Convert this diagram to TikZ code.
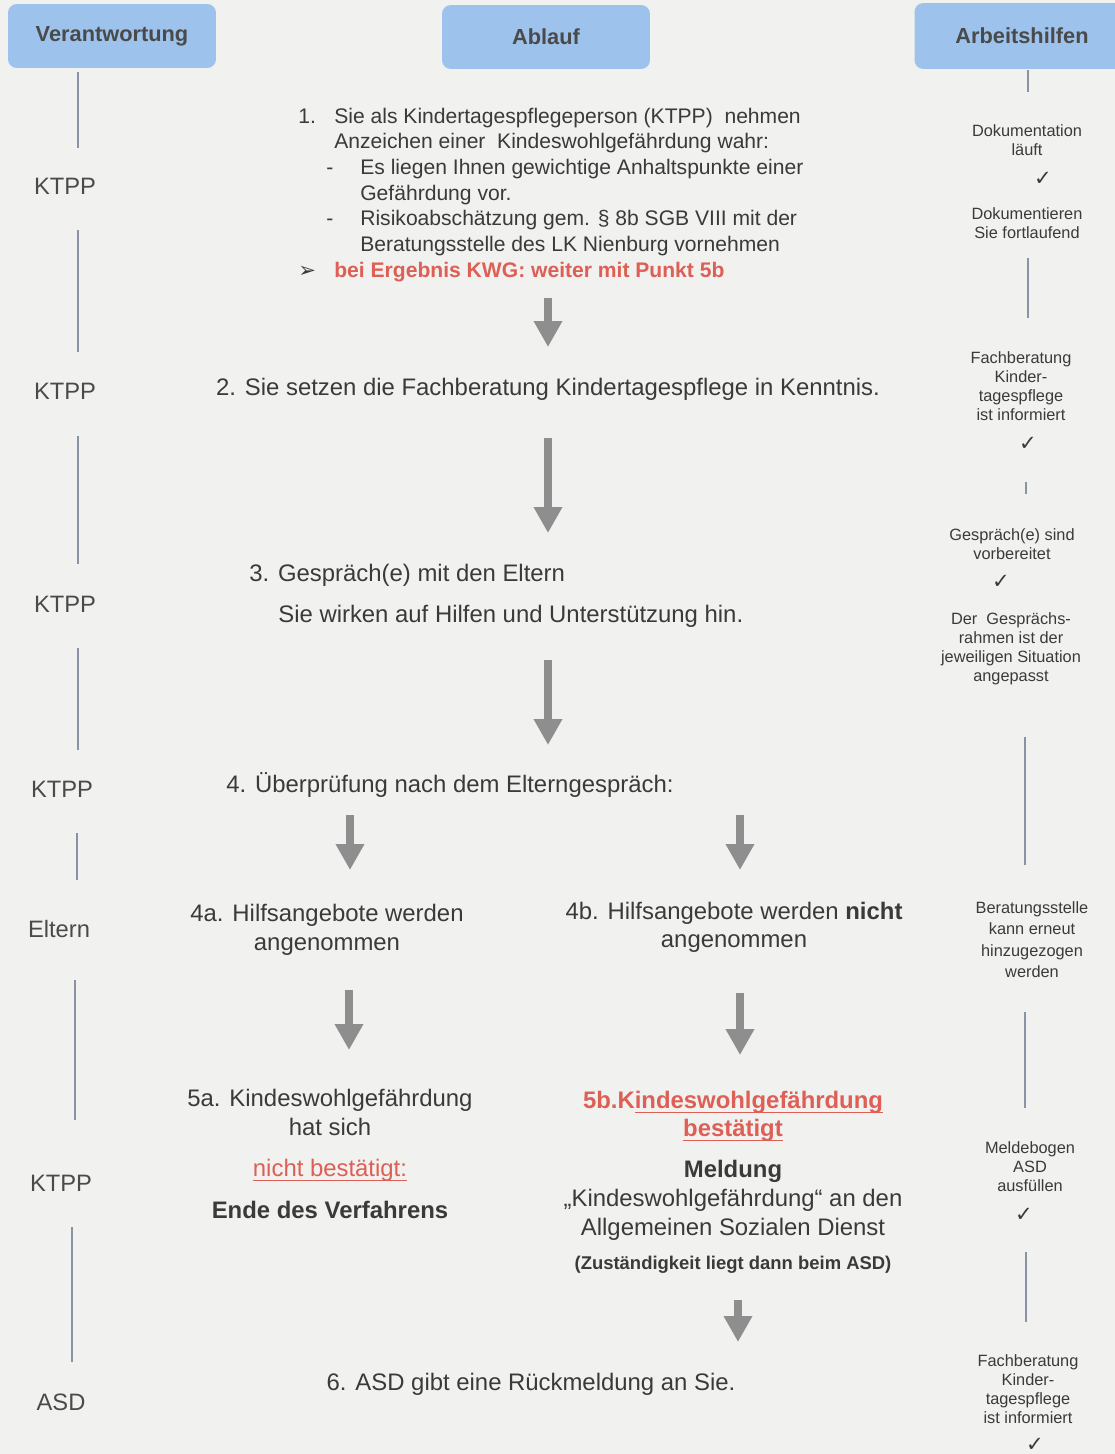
\documentclass[tikz,border=0pt]{standalone}
\usepackage{fontspec}
\setmainfont{Liberation Sans}
\newfontfamily\symfont{DejaVu Sans}
\usepackage{xcolor}
\usetikzlibrary{arrows.meta}
\definecolor{paper}{HTML}{F1F1EF}
\definecolor{headblue}{HTML}{9DC3EC}
\definecolor{headtext}{HTML}{4A4A4A}
\definecolor{inkgray}{HTML}{3A3A3A}
\definecolor{kwgred}{HTML}{DD5F55}
\definecolor{arrowgray}{HTML}{8E8E8E}
\definecolor{linegray}{HTML}{8A93A6}
\newcommand{\uln}[1]{\setbox0\hbox{#1}\rlap{\rule[-2.8pt]{\wd0}{0.8pt}}\box0}
\tikzset{
  headbox/.style={
    fill=headblue,
    rounded corners=5pt,
    minimum width=4.16cm,
    minimum height=1.28cm,
    text=headtext,
    font=\fontsize{12.4}{14}\selectfont\bfseries
  },
  rolelabel/.style={
    text=headtext,
    inner sep=0pt,
    font=\fontsize{13.5}{16}\selectfont
  },
  vline/.style={
    draw=linegray,
    line width=1.1pt
  },
  steptext/.style={
    text=inkgray,
    inner sep=0pt,
    font=\fontsize{13.6}{16.5}\selectfont
  },
  firststep/.style={
    text=inkgray,
    inner sep=0pt,
    align=left,
    font=\fontsize{12}{14.6}\selectfont
  },
  helptext/.style={
    text=inkgray,
    inner sep=0pt,
    align=center,
    font=\fontsize{9.3}{10.8}\selectfont
  },
  tickmark/.style={
    text=inkgray,
    inner sep=0pt,
    font=\symfont\fontsize{12}{14}\selectfont
  },
  flowarrow/.style={
    -{Triangle[length=14.8pt,width=15.4pt]},
    line width=4.4pt,
    draw=arrowgray
  }
}

\begin{document}
\begin{tikzpicture}[x=0.02cm, y=-0.02cm]
    \useasboundingbox (0,0) rectangle (1115,1454);
    \clip (0,0) rectangle (1115,1454);
    \fill[paper] (0,0) rectangle (1115,1454);

    % column heads
    \node[headbox] (hver) at (112,36) {Verantwortung};
    \node[headbox] (habl) at (546,37) {Ablauf};
    \node[headbox, minimum width=4.3cm, minimum height=1.32cm] (harb) at (1022,36) {Arbeitshilfen};

    % Verantwortung
    \node[rolelabel] (k1) at (65,186) {KTPP};
    \node[rolelabel] (k2) at (65,391) {KTPP};
    \node[rolelabel] (k3) at (65,604) {KTPP};
    \node[rolelabel] (k4) at (62,789) {KTPP};
    \node[rolelabel] (el) at (59,929) {Eltern};
    \node[rolelabel] (k5) at (61,1183) {KTPP};
    \node[rolelabel] (asd) at (61,1402) {ASD};

    \foreach \x/\ya/\yb in {78/72/148, 78/230/352, 78/436/564, 78/648/750,
                            77/833/880, 75/980/1120, 72/1227/1362}
        \draw[vline] (\x,\ya) -- (\x,\yb);

    % Ablauf
    \node[firststep, anchor=north west] (s1) at (298,107.5) {%
        \makebox[0.72cm][l]{1.}Sie als Kindertagespflegeperson (KTPP)\ \ nehmen\\
        \hspace*{0.72cm}Anzeichen einer\ \ Kindeswohlgefährdung wahr:\\
        \hspace*{0.56cm}\makebox[0.68cm][l]{-}Es liegen Ihnen gewichtige Anhaltspunkte einer\\
        \hspace*{1.24cm}Gefährdung vor.\\
        \hspace*{0.56cm}\makebox[0.68cm][l]{-}Risikoabschätzung gem. § 8b SGB VIII mit der\\
        \hspace*{1.24cm}Beratungsstelle des LK Nienburg vornehmen\\
        \makebox[0.72cm][l]{{\symfont\fontsize{12}{12}\selectfont ➢}}{\color{kwgred}\bfseries bei Ergebnis KWG: weiter mit Punkt 5b}
    };
    \node[steptext, anchor=base] (s2) at (548,395.5) {2. Sie setzen die Fachberatung Kindertagespflege in Kenntnis.};
    \node[steptext, anchor=base west] (s3) at (249,581.5) {3. Gespräch(e) mit den Eltern};
    \node[steptext, anchor=base west] (s3b) at (278,622.5) {Sie wirken auf Hilfen und Unterstützung hin.};
    \node[steptext, anchor=base west] (s4) at (226,792.5) {4. Überprüfung nach dem Elterngespräch:};
    \node[steptext, align=center, anchor=north] (s4a) at (327,903.5) {4a. Hilfsangebote werden\\angenommen};
    \node[steptext, align=center, anchor=north, font=\fontsize{13.6}{16}\selectfont] (s4b) at (734,901.5) {4b. Hilfsangebote werden \textbf{nicht}\\angenommen};
    \node[steptext, align=center, anchor=north] (s5a) at (330,1088.5) {%
        5a. Kindeswohlgefährdung\\hat sich\\[6.8pt]
        {\color{kwgred}\uln{nicht bestätigt:}}\\[7.4pt]
        \textbf{Ende des Verfahrens}
    };
    \node[steptext, align=center, anchor=north, text=kwgred, font=\fontsize{13.6}{16}\selectfont\bfseries] (s5b) at (733,1090.5) {5b.K\uln{indeswohlgefährdung}\\\uln{bestätigt}};
    \node[steptext, align=center, anchor=north] (s5bm) at (733,1159.5) {\textbf{Meldung}\\„Kindeswohlgefährdung“ an den\\Allgemeinen Sozialen Dienst};
    \node[steptext, anchor=base, font=\fontsize{10.5}{12}\selectfont\bfseries] (s5bz) at (733,1269.5) {(Zuständigkeit liegt dann beim ASD)};
    \node[steptext, anchor=base] (s6) at (531,1390.5) {6. ASD gibt eine Rückmeldung an Sie.};

    \foreach \n/\x/\ya/\yb in {1/548/298/347, 2/548/438/533, 3/548/660/745,
                               4/350/815/870, 5/740/815/870, 6/349/990/1050,
                               7/740/993/1055, 8/738/1300/1342} {
        \coordinate (ar\n s) at (\x,\ya);
        \coordinate (ar\n e) at (\x,\yb);
        \draw[flowarrow] (ar\n s) -- (ar\n e);
    }

    % Arbeitshilfen
    \node[helptext, anchor=north] (r1) at (1027,124) {Dokumentation\\läuft};
    \node[tickmark] (c1) at (1043,179) {✓};
    \node[helptext, anchor=north] (r2) at (1027,207) {Dokumentieren\\Sie fortlaufend};
    \node[helptext, anchor=north] (r3) at (1021,351) {Fachberatung\\Kinder-\\tagespflege\\ist informiert};
    \node[tickmark] (c2) at (1028,444) {✓};
    \node[helptext, anchor=north] (r4) at (1012,528) {Gespräch(e) sind\\vorbereitet};
    \node[tickmark] (c3) at (1001,582) {✓};
    \node[helptext, anchor=north] (r5) at (1011,612) {Der\ \ Gesprächs-\\rahmen ist der\\jeweiligen Situation\\angepasst};
    \node[helptext, anchor=north, font=\fontsize{9.3}{12.2}\selectfont] (r6) at (1032,901) {Beratungsstelle\\kann erneut\\hinzugezogen\\werden};
    \node[helptext, anchor=north] (r7) at (1030,1141) {Meldebogen\\ASD\\ausfüllen};
    \node[tickmark] (c4) at (1024,1215) {✓};
    \node[helptext, anchor=north] (r8) at (1028,1354) {Fachberatung\\Kinder-\\tagespflege\\ist informiert};
    \node[tickmark] (c5) at (1035,1445) {✓};

    \foreach \x/\ya/\yb in {1028/70/92, 1028/258/318, 1026/482/494,
                            1025/737/865, 1025/1012/1108, 1026/1252/1322}
        \draw[vline] (\x,\ya) -- (\x,\yb);
\end{tikzpicture}
\end{document}
